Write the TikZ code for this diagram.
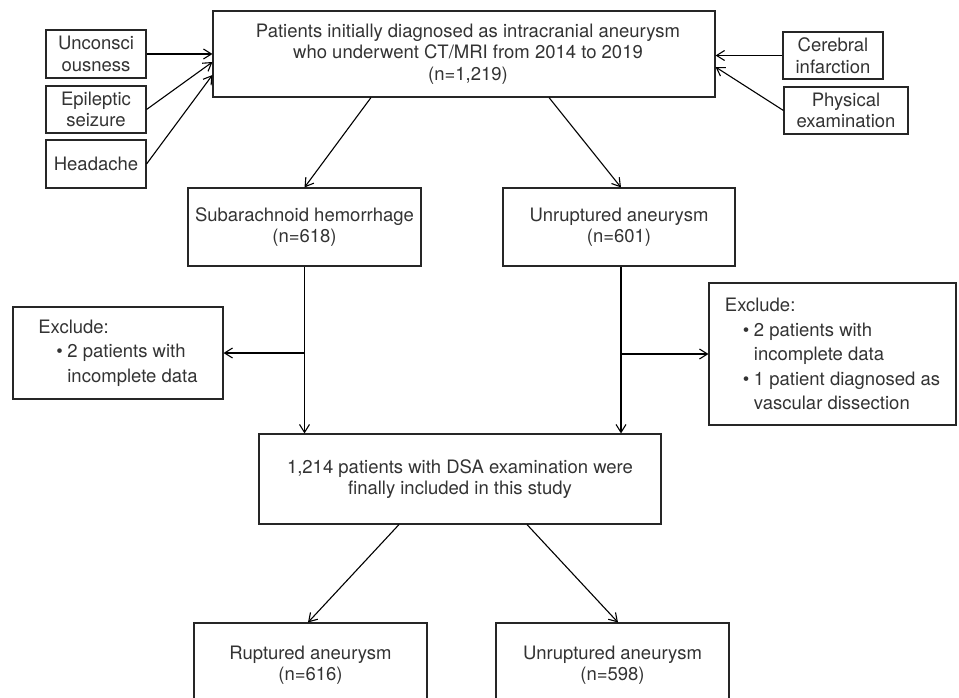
\documentclass[tikz,border=0pt]{standalone}
\usepackage{fontspec}
\setmainfont{TeX Gyre Heros}
\usetikzlibrary{arrows.meta}
\newcommand{\bul}{\hspace*{18pt}\makebox[11pt][l]{\textbullet}}
\newcommand{\cont}{\hspace*{29pt}}
\begin{document}
\begin{tikzpicture}[x=1pt,y=-1pt,
  box/.style={draw=black!85, line width=1.1pt, inner sep=0pt, align=center, text=black!80,
    font=\fontsize{18.5}{21.5}\selectfont},
  excl/.style={box, align=left, font=\fontsize{18.5}{24.5}\selectfont},
  arr/.style={-{Straight Barb[length=8pt,width=10pt]}, line width=1.1pt}]
\useasboundingbox (0,0) rectangle (959,698);
\clip (0,0) rectangle (959,698);
% main column
\node[box, minimum width=502pt, minimum height=86pt] (top) at (464,54)
  {\hspace*{8pt}Patients initially diagnosed as intracranial aneurysm\\\hspace*{8pt}who underwent CT/MRI from 2014 to 2019\\\hspace*{8pt}(n=1,219)};
\node[box, minimum width=233pt, minimum height=78pt] (sah) at (304.5,227)
  {Subarachnoid hemorrhage\\(n=618)};
\node[box, minimum width=232pt, minimum height=78pt] (unr) at (619,227)
  {Unruptured aneurysm\\(n=601)};
\node[box, minimum width=402pt, minimum height=90pt] (mid) at (460,479)
  {1,214 patients with DSA examination were\\finally included in this study};
\node[box, minimum width=233pt, minimum height=84pt] (rup) at (310.5,665)
  {Ruptured aneurysm\\(n=616)};
\node[box, minimum width=233pt, minimum height=84pt] (unr2) at (612.5,665)
  {Unruptured aneurysm\\(n=598)};
% exclusion boxes
\node[excl, minimum width=210pt, minimum height=92pt] (exl) at (118,353)
  {Exclude:\\\bul 2 patients with\\\cont incomplete data};
\node[excl, minimum width=247pt, minimum height=142pt] (exr) at (832.5,354)
  {Exclude:\\\bul 2 patients with\\\cont incomplete data\\\bul 1 patient diagnosed as\\\cont vascular dissection};
% symptom boxes
\node[box, minimum width=100pt, minimum height=48pt] (unc) at (96,54) {Unconsci\\ousness};
\node[box, minimum width=100pt, minimum height=47pt] (epi) at (96,109.5) {Epileptic\\seizure};
\node[box, minimum width=100pt, minimum height=48pt] (hea) at (96,164) {Headache};
\node[box, minimum width=100pt, minimum height=47pt] (cer) at (833,55.5) {Cerebral\\infarction};
\node[box, minimum width=124pt, minimum height=47pt] (phy) at (846,110.5) {Physical\\examination};
% connectors into top box
\draw[arr] (unc.east) -- (top.west);
\draw[arr] (epi.east) -- ([yshift=-8pt]top.west);
\draw[arr] (hea.east) -- ([yshift=-21pt]top.west);
\draw[arr] (cer.west) -- (cer.west -| top.east);
\draw[arr] (phy.west) -- ([yshift=-13pt]top.east);
% split
\draw[arr] ([xshift=-93pt]top.south) -- (sah.north);
\draw[arr] ([xshift=85pt]top.south) -- ([xshift=2pt]unr.north);
% down to middle
\draw[arr] (sah.south) -- (sah.south |- mid.north);
\draw[arr] ([xshift=2pt]unr.south) -- ([xshift=2pt]unr.south |- mid.north);
\coordinate (jl) at (sah.south |- exl.east);
\coordinate (jr) at ([xshift=2pt]unr.south |- exr.west);
\draw[arr] (jl) -- (exl.east);
\draw[arr] (jr) -- (exr.west);
% final split
\draw[arr] ([xshift=-61pt]mid.south) -- ([xshift=-2.5pt]rup.north);
\draw[arr] ([xshift=67pt]mid.south) -- ([xshift=5.5pt]unr2.north);
\end{tikzpicture}
\end{document}
